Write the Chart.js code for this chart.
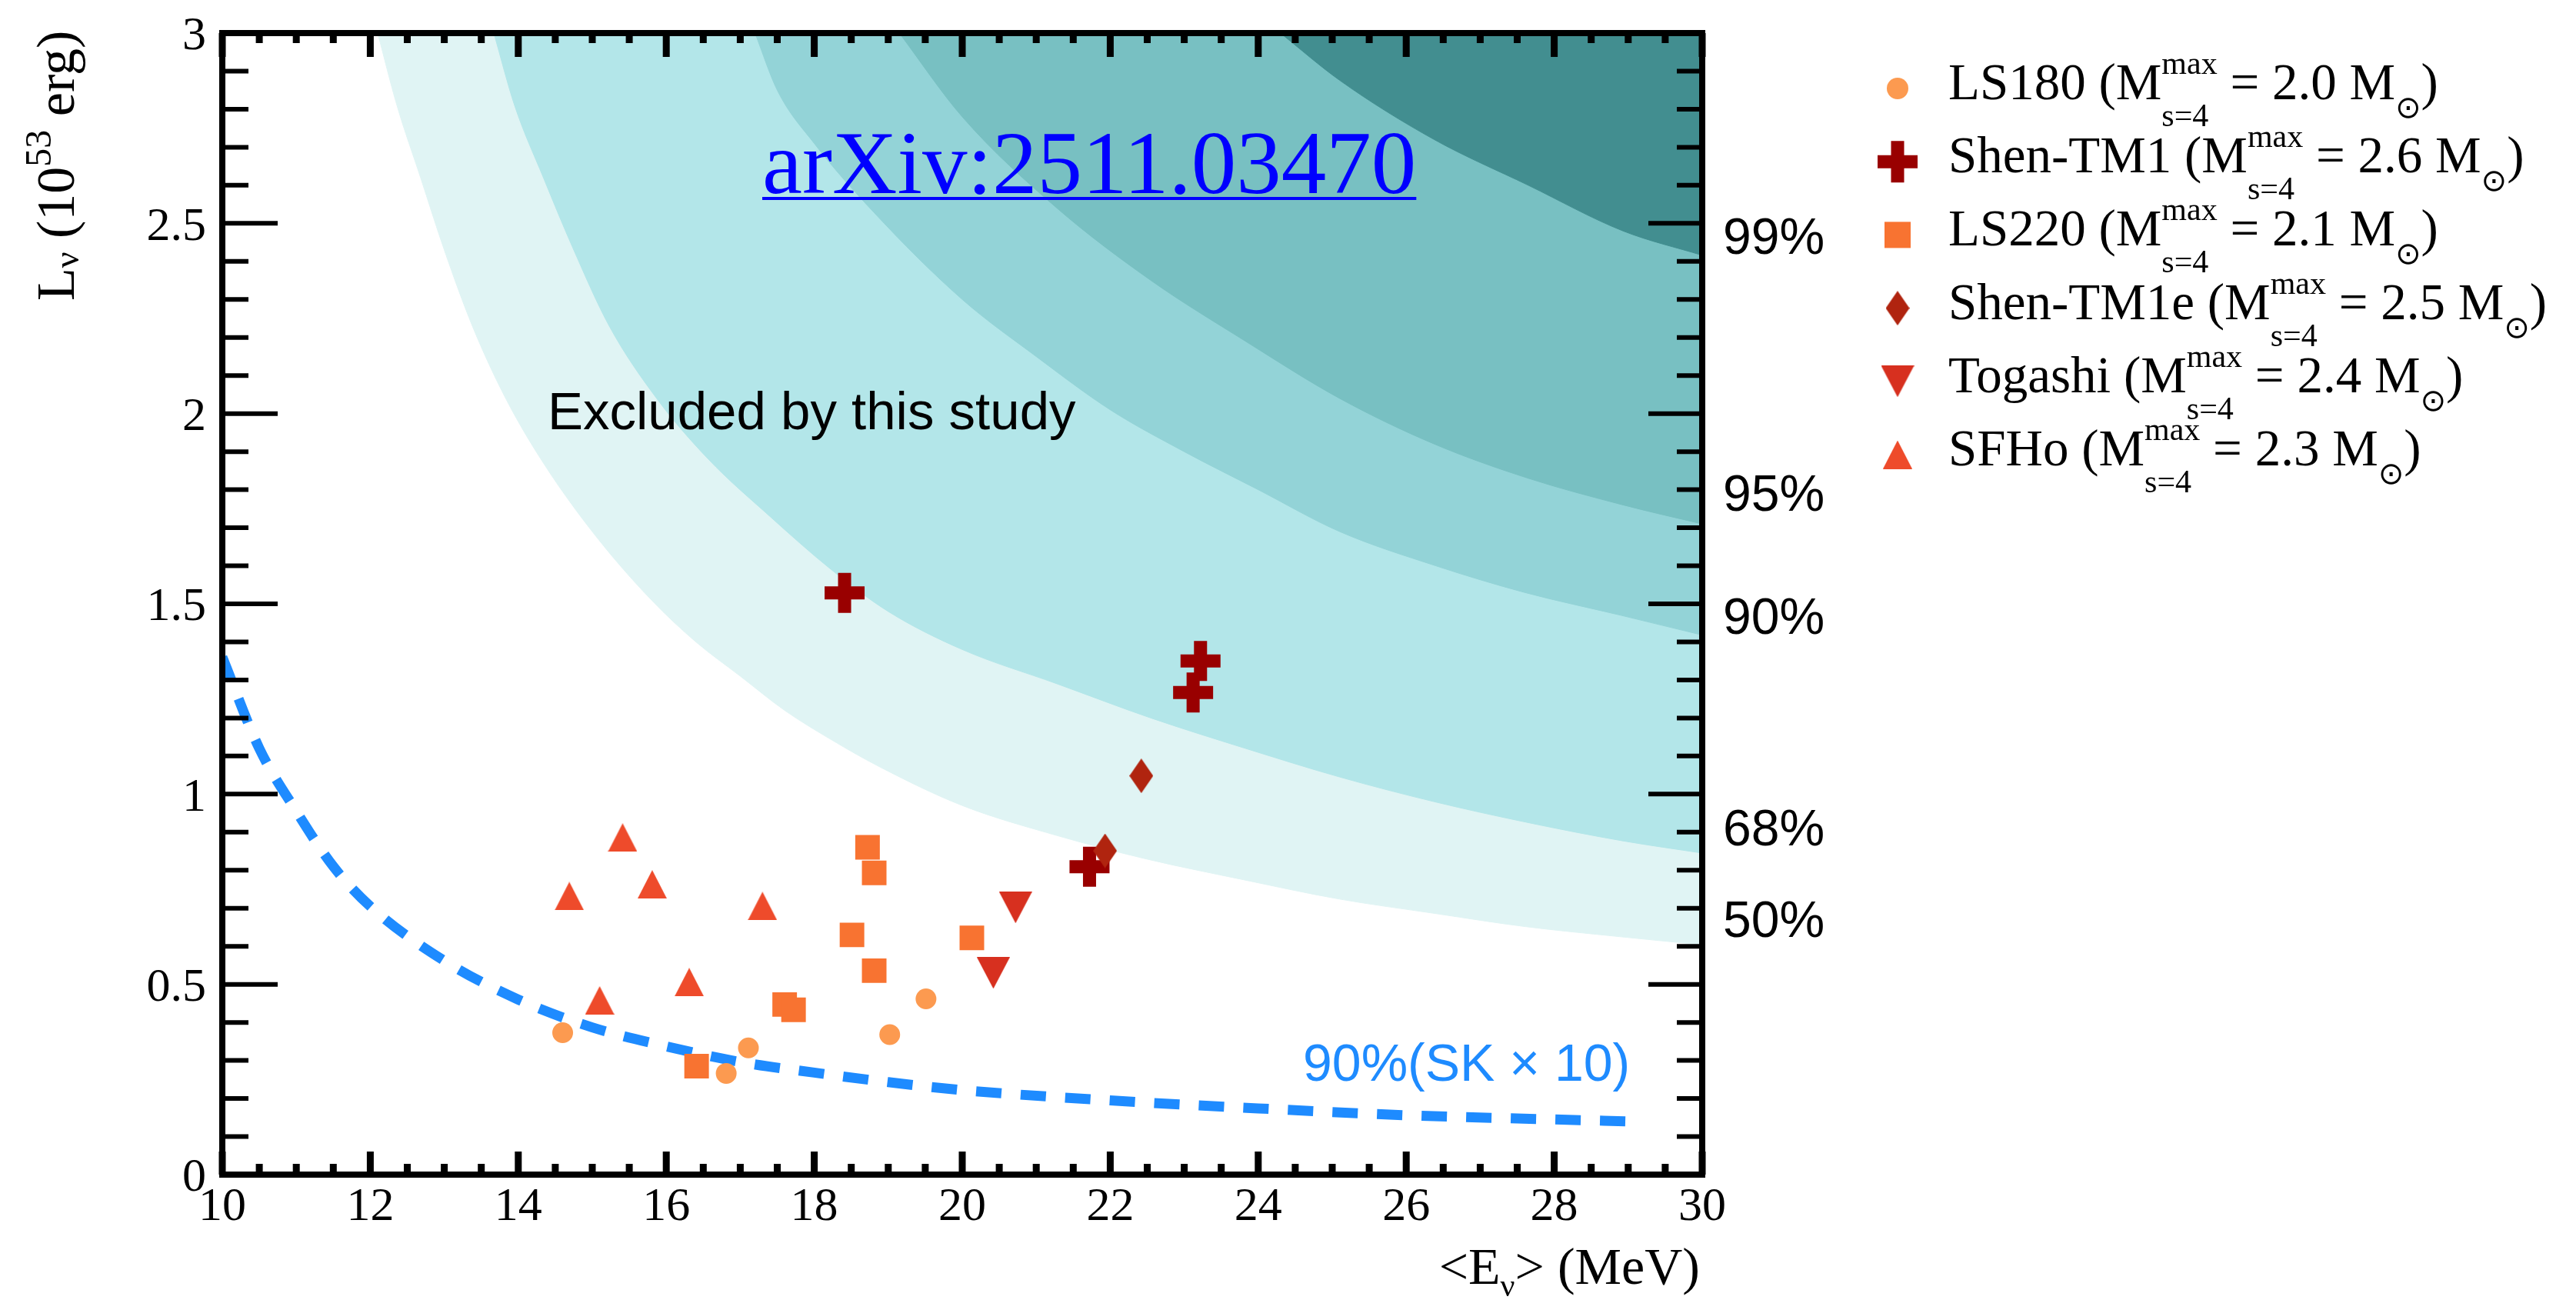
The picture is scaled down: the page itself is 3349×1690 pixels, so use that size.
<!DOCTYPE html>
<html>
<head>
<meta charset="utf-8">
<script src="https://cdn.jsdelivr.net/npm/chart.js@4.4.1/dist/chart.umd.min.js"></script>
<style>
  html, body { margin: 0; padding: 0; background: #fff; }
  #wrap { width: 3349px; height: 1690px; position: relative; }
</style>
</head>
<body>
<div id="wrap"><canvas id="myChart"></canvas></div>
<script>
// axis tick labels
var xTickLabels = ['10', '12', '14', '16', '18', '20', '22', '24', '26', '28', '30'];
var yTickLabels = ['0', '0.5', '1', '1.5', '2', '2.5', '3'];

// confidence level labels on the right edge
var clLabels = ['50%', '68%', '90%', '95%', '99%'];
var clLabelY = [0.661, 0.903, 1.457, 1.781, 2.456];

// excluded region boundaries, L at <E>
var cl50E = [12.1, 12.36, 12.68, 13.0, 13.38, 13.83, 14.34, 15.04, 15.8, 16.4, 17.0, 17.6, 18.3, 18.9, 20.0, 21.3, 22.5, 23.8, 25.1, 26.4, 27.6, 28.9, 30.0];
var cl50L = [3.0, 2.81, 2.62, 2.43, 2.23, 2.04, 1.87, 1.68, 1.51, 1.40, 1.31, 1.22, 1.135, 1.07, 0.97, 0.89, 0.829, 0.775, 0.724, 0.686, 0.652, 0.625, 0.604];
var cl68E = [13.67, 13.95, 14.34, 14.75, 15.23, 15.87, 16.57, 17.4, 18.23, 19.0, 20.0, 21.28, 22.55, 23.83, 25.1, 26.38, 27.65, 28.93, 30.0];
var cl68L = [3.0, 2.81, 2.62, 2.43, 2.23, 2.04, 1.88, 1.73, 1.59, 1.48, 1.38, 1.29, 1.20, 1.12, 1.045, 0.98, 0.925, 0.877, 0.845];
var cl90E = [17.2, 17.5, 18.0, 18.8, 20.0, 21.0, 22.0, 23.0, 24.0, 25.1, 26.4, 27.6, 28.9, 30.0];
var cl90L = [3.0, 2.85, 2.71, 2.53, 2.30, 2.15, 2.01, 1.90, 1.80, 1.69, 1.60, 1.53, 1.47, 1.418];
var cl95E = [19.15, 20.0, 21.28, 22.55, 23.83, 25.1, 26.38, 27.65, 28.93, 30.0];
var cl95L = [3.0, 2.78, 2.54, 2.35, 2.19, 2.04, 1.92, 1.83, 1.76, 1.71];
var cl99E = [24.3, 25.1, 26.38, 27.65, 28.93, 30.0];
var cl99L = [3.0, 2.876, 2.72, 2.60, 2.48, 2.416];

// 90% sensitivity, SK x 10
var skE = [10, 10.5, 11, 11.5, 12, 13, 14, 15, 16, 17, 18, 19, 20, 22, 24, 26, 28, 29];
var skL = [1.36, 1.12, 0.955, 0.81, 0.705, 0.562, 0.46, 0.387, 0.337, 0.296, 0.268, 0.243, 0.222, 0.195, 0.174, 0.156, 0.145, 0.140];

// EOS models
var ls180E = [14.60, 16.81, 17.11, 19.02, 19.51];
var ls180L = [0.373, 0.266, 0.333, 0.368, 0.462];
var shenTM1E = [18.41, 23.22, 23.12, 21.72];
var shenTM1L = [1.529, 1.350, 1.267, 0.809];
var ls220E = [16.41, 17.60, 17.72, 18.72, 18.81, 18.51, 18.81, 20.13];
var ls220L = [0.285, 0.447, 0.433, 0.860, 0.793, 0.630, 0.536, 0.622];
var shenTM1eE = [22.42, 21.93];
var shenTM1eL = [1.048, 0.851];
var togashiE = [20.72, 20.42];
var togashiL = [0.702, 0.530];
var sfhoE = [15.41, 14.69, 15.81, 17.30, 16.31, 15.10];
var sfhoL = [0.886, 0.732, 0.763, 0.706, 0.506, 0.458];

var modelNames = ['LS180', 'Shen-TM1', 'LS220', 'Shen-TM1e', 'Togashi', 'SFHo'];
var modelMmax = ['2.0', '2.6', '2.1', '2.5', '2.4', '2.3'];

var SERIF = "'Liberation Serif', 'Times New Roman', serif";
var SANS = "'Liberation Sans', Arial, sans-serif";

function pts(xs, ys) {
  return xs.map(function (x, i) { return { x: x, y: ys[i] }; });
}

function shape(kind, w, h, color) {
  var c = document.createElement('canvas');
  c.width = w; c.height = h;
  var g = c.getContext('2d');
  g.fillStyle = color;
  g.beginPath();
  if (kind === 'diamond') {
    g.moveTo(w / 2, 0); g.lineTo(w, h / 2); g.lineTo(w / 2, h); g.lineTo(0, h / 2);
  } else if (kind === 'up') {
    g.moveTo(w / 2, 0); g.lineTo(w, h); g.lineTo(0, h);
  } else {
    g.moveTo(0, 0); g.lineTo(w, 0); g.lineTo(w / 2, h);
  }
  g.closePath();
  g.fill();
  return c;
}

var diamondImg = shape('diamond', 31, 45, '#B0240F');
var downImg = shape('down', 43, 41, '#D7301F');
var upImg = shape('up', 38, 37, '#EE4B2B');

function band(xs, ys, color, order) {
  return {
    type: 'line', data: pts(xs, ys), fill: 'end',
    backgroundColor: color, borderColor: color, borderWidth: 1,
    pointRadius: 0, cubicInterpolationMode: 'monotone', order: order
  };
}

function model(label, xs, ys, style, radius, color, bw, order) {
  return {
    type: 'scatter', label: label, data: pts(xs, ys),
    pointStyle: style, pointRadius: radius,
    pointBackgroundColor: color, pointBorderColor: color, pointBorderWidth: bw,
    order: order
  };
}

var models = [
  model('LS180', ls180E, ls180L, 'circle', 13.5, '#FC9A50', 0, 6),
  model('Shen-TM1', shenTM1E, shenTM1L, 'cross', 26, '#990000', 17, 5),
  model('LS220', ls220E, ls220L, 'rect', 22.6, '#F87331', 0, 4),
  model('Shen-TM1e', shenTM1eE, shenTM1eL, diamondImg, 20, '#B0240F', 0, 3),
  model('Togashi', togashiE, togashiL, downImg, 20, '#D7301F', 0, 2),
  model('SFHo', sfhoE, sfhoL, upImg, 20, '#EE4B2B', 0, 1)
];

// draw text with sub/superscripts
function rich(ctx, parts, x, y, draw) {
  var cx = x;
  parts.forEach(function (p) {
    ctx.font = p.s + 'px ' + (p.f || SERIF);
    if (p.sup !== undefined) {
      var w1 = ctx.measureText(p.sup).width, w2 = ctx.measureText(p.sub).width;
      if (draw) { ctx.fillText(p.sup, cx, y + p.up); ctx.fillText(p.sub, cx, y + p.dn); }
      cx += Math.max(w1, w2);
    } else {
      if (draw) ctx.fillText(p.t, cx, y + (p.dy || 0));
      cx += ctx.measureText(p.t).width;
    }
  });
  return cx - x;
}

function noPad(s) {
  s.paddingTop = 0; s.paddingBottom = 0; s.paddingLeft = 0; s.paddingRight = 0;
}

var annotations = {
  id: 'annotations',
  afterDatasetsDraw: function (chart) {
    var ctx = chart.ctx;
    ctx.save();
    ctx.textAlign = 'left';
    ctx.textBaseline = 'alphabetic';
    ctx.fillStyle = '#000';
    ctx.font = '69px ' + SANS;
    ctx.fillText('Excluded by this study', 712, 558);

    ctx.fillStyle = '#1E8BFF';
    ctx.font = '68px ' + SANS;
    ctx.fillText('90%(SK \u00D7 10)', 1694, 1405);

    ctx.fillStyle = '#0000FF';
    ctx.font = '117px ' + SERIF;
    var t = 'arXiv:2511.03470';
    var w = ctx.measureText(t).width;
    ctx.fillText(t, 991, 251);
    ctx.fillRect(991, 256, w, 4);
    ctx.restore();
  }
};

var frameTicks = {
  id: 'frameTicks',
  afterDraw: function (chart) {
    var ctx = chart.ctx, a = chart.chartArea;
    var sx = chart.scales.x, sy = chart.scales.y;
    ctx.save();
    ctx.strokeStyle = '#000';
    ctx.lineCap = 'butt';
    ctx.lineWidth = 6;
    for (var i = 0; i <= 30; i++) {
      var py = sy.getPixelForValue(i / 10);
      var major = i % 5 === 0;
      ctx.beginPath();
      ctx.moveTo(a.left, py); ctx.lineTo(a.left + (major ? 72 : 34), py);
      ctx.moveTo(a.right, py); ctx.lineTo(a.right - (major ? 70 : 33), py);
      ctx.stroke();
    }
    ctx.lineWidth = 9;
    for (var j = 0; j <= 40; j++) {
      var px = sx.getPixelForValue(10 + j * 0.5);
      var maj = j % 4 === 0;
      ctx.beginPath();
      ctx.moveTo(px, a.bottom); ctx.lineTo(px, a.bottom - (maj ? 30 : 14));
      ctx.moveTo(px, a.top); ctx.lineTo(px, a.top + (maj ? 31 : 13));
      ctx.stroke();
    }
    ctx.lineWidth = 8;
    ctx.strokeRect(a.left, a.top, a.right - a.left, a.bottom - a.top);

    // axis titles
    ctx.fillStyle = '#000';
    ctx.textAlign = 'left';
    ctx.textBaseline = 'alphabetic';
    ctx.save();
    ctx.translate(96, 391);
    ctx.rotate(-Math.PI / 2);
    rich(ctx, [
      { t: 'L', s: 70 }, { t: '\u03BD', s: 46, dy: 6 }, { t: ' (10', s: 70 },
      { t: '53', s: 48, dy: -30 }, { t: ' erg)', s: 70 }
    ], 0, 0, true);
    ctx.restore();

    var xt = [{ t: '<E', s: 68 }, { t: '\u03BD', s: 42, dy: 16 }, { t: '> (MeV)', s: 68 }];
    var xw = rich(ctx, xt, 0, 0, false);
    rich(ctx, xt, 2210 - xw, 1669, true);
    ctx.restore();
  }
};

var modelLegend = {
  id: 'modelLegend',
  afterDraw: function (chart) {
    var ctx = chart.ctx;
    ctx.save();
    ctx.textAlign = 'left';
    ctx.textBaseline = 'alphabetic';
    var F = 67;
    models.forEach(function (ds, i) {
      var base = 129 + i * 95.2;
      var mx = 2467, my = base - 14;
      var st = ds.pointStyle;
      ctx.fillStyle = ds.pointBackgroundColor;
      ctx.strokeStyle = ds.pointBorderColor;
      if (st === 'circle') {
        ctx.beginPath(); ctx.arc(mx, my, 14, 0, 2 * Math.PI); ctx.fill();
      } else if (st === 'cross') {
        ctx.lineWidth = ds.pointBorderWidth;
        ctx.beginPath();
        ctx.moveTo(mx - 26, my); ctx.lineTo(mx + 26, my);
        ctx.moveTo(mx, my - 27); ctx.lineTo(mx, my + 27);
        ctx.stroke();
      } else if (st === 'rect') {
        ctx.fillRect(mx - 17, my - 17, 34, 34);
      } else {
        ctx.drawImage(st, mx - st.width / 2, my - st.height / 2);
      }
      ctx.fillStyle = '#000';
      rich(ctx, [
        { t: modelNames[i] + ' (M', s: F },
        { sup: 'max', sub: 's=4', s: 42, up: -33, dn: 35 },
        { t: ' = ' + modelMmax[i] + ' M', s: F },
        { t: '\u2299', s: 40, dy: 24, f: "'DejaVu Sans', sans-serif" },
        { t: ')', s: F }
      ], 2533, base, true);
    });
    ctx.restore();
  }
};

var ctx = document.getElementById('myChart');
var myChart = new Chart(ctx, {
  type: 'scatter',
  data: {
    datasets: [
      band(cl50E, cl50L, '#E0F4F4', 20),
      band(cl68E, cl68L, '#B3E6E9', 19),
      band(cl90E, cl90L, '#93D3D7', 18),
      band(cl95E, cl95L, '#78C0C2', 17),
      band(cl99E, cl99L, '#428E90', 16),
      {
        type: 'line', label: '90%(SK x 10)', data: pts(skE, skL), fill: false,
        borderColor: '#1E8BFF', borderWidth: 13, borderDash: [33, 25],
        pointRadius: 0, cubicInterpolationMode: 'monotone', order: 10
      }
    ].concat(models)
  },
  options: {
    responsive: true,
    maintainAspectRatio: false,
    devicePixelRatio: 1,
    animation: false,
    layout: { padding: { left: 0, top: 38, right: 936, bottom: 0 } },
    plugins: {
      legend: { display: false },
      tooltip: { enabled: false }
    },
    scales: {
      x: {
        type: 'linear', position: 'bottom', min: 10, max: 30,
        grid: { display: false, drawTicks: false },
        border: { display: false },
        ticks: {
          stepSize: 2, padding: 6, maxRotation: 0, autoSkip: false, color: '#000',
          font: { family: SERIF, size: 62 },
          callback: function (v) { return xTickLabels[Math.round((v - 10) / 2)]; }
        },
        afterFit: function (s) { s.height = 163; noPad(s); }
      },
      y: {
        position: 'left', min: 0, max: 3,
        grid: { display: false, drawTicks: false },
        border: { display: false },
        ticks: {
          stepSize: 0.5, padding: 21, labelOffset: 5, autoSkip: false, color: '#000',
          font: { family: SERIF, size: 62 },
          callback: function (v) { return yTickLabels[Math.round(v / 0.5)]; }
        },
        afterFit: function (s) { s.width = 289; noPad(s); }
      },
      y2: {
        position: 'right', min: 0, max: 3,
        grid: { display: false, drawTicks: false },
        border: { display: false },
        afterBuildTicks: function (s) {
          s.ticks = clLabelY.map(function (v) { return { value: v }; });
        },
        ticks: {
          padding: 27, autoSkip: false, color: '#000',
          font: { family: SANS, size: 66 },
          callback: function (v, i) { return clLabels[i]; }
        },
        afterFit: function (s) { s.width = 200; noPad(s); }
      }
    }
  },
  plugins: [annotations, frameTicks, modelLegend]
});
</script>
</body>
</html>
